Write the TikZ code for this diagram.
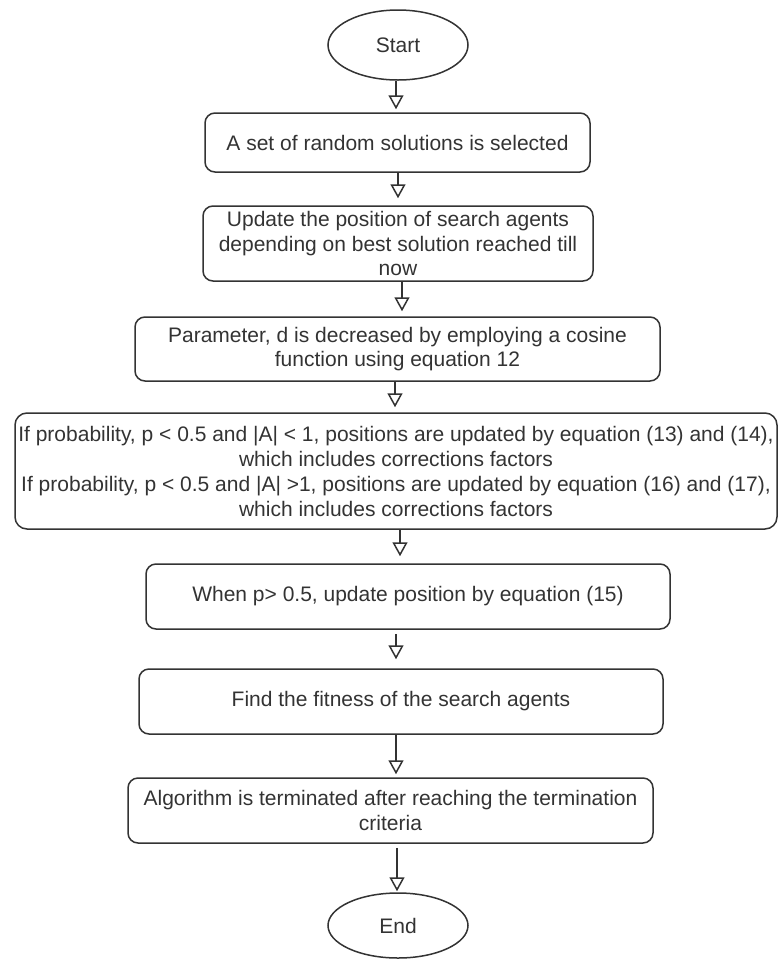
\documentclass[tikz,border=0pt]{standalone}
\usepackage{fontspec}
\setmainfont{Liberation Sans}
\usetikzlibrary{shapes.geometric,arrows.meta}
\definecolor{ln}{HTML}{333333}
\definecolor{tx}{HTML}{333333}
\newcommand{\fsza}{\fontsize{21}{24.5}\selectfont}
\newcommand{\fszb}{\fontsize{21}{25}\selectfont}
\begin{document}
\begin{tikzpicture}[x=1pt,y=-1pt,
  box/.style={draw=ln, line width=1.5pt, rounded corners=10pt, inner sep=0pt, align=center, text=tx, font=\fsza},
  term/.style={ellipse, draw=ln, line width=1.5pt, inner sep=0pt, text=tx, font=\fsza},
  arr/.style={draw=ln, line width=1.5pt, -{Triangle[open, length=14pt, width=15pt, line width=1.5pt]}}]
\useasboundingbox (0,0) rectangle (779,959);
\node[term, minimum width=140pt, minimum height=70pt] (start) at (398,45) {Start};
\node[box, minimum width=385pt, minimum height=59pt] (b1) at (397.5,142.5) {A set of random solutions is selected};
\node[box, minimum width=390pt, minimum height=75pt] (b2) at (398,243.5) {Update the position of search agents\\depending on best solution reached till\\now};
\node[box, minimum width=525pt, minimum height=64pt] (b3) at (397.5,349) {Parameter, d is decreased by employing a cosine\\function using equation 12};
\node[box, minimum width=762pt, minimum height=116pt, font=\fszb, rounded corners=12pt] (b4) at (396,471) {If probability, p < 0.5 and |A| < 1, positions are updated by equation (13) and (14),\\which includes corrections factors\\If probability, p < 0.5 and |A| >1, positions are updated by equation (16) and (17),\\which includes corrections factors};
\node[box, minimum width=524pt, minimum height=65pt] (b5) at (408,596.5) {When p> 0.5, update position by equation (15)};
\node[box, minimum width=524pt, minimum height=65pt] (b6) at (401,701.5) {Find the fitness of the search agents};
\node[box, minimum width=525pt, minimum height=65pt] (b7) at (390.5,810.5) {Algorithm is terminated after reaching the termination\\criteria};
\node[term, minimum width=140pt, minimum height=65pt] (end) at (398,925.5) {End};
\draw[arr, shorten >=3pt] ([xshift=-2pt]start.south) -- ([xshift=-1.5pt]b1.north);
\draw[arr, shorten >=7pt] ([xshift=0.5pt]b1.south) -- (b2.north);
\draw[arr, shorten >=5pt] ([xshift=4pt]b2.south) -- ([xshift=4.5pt]b3.north);
\draw[arr, shorten >=5pt] ([xshift=-2.5pt]b3.south) -- ([xshift=-1pt]b4.north);
\draw[arr, shorten >=7pt] ([xshift=4pt]b4.south) -- ([xshift=-8pt]b5.north);
\draw[arr, shorten <=4pt, shorten >=9pt] ([xshift=-12pt]b5.south) -- ([xshift=-5pt]b6.north);
\draw[arr, shorten >=3pt] ([xshift=-5pt]b6.south) -- ([xshift=5.5pt]b7.north);
\draw[arr, shorten <=4pt, shorten >=1pt] ([xshift=6.5pt]b7.south) -- ([xshift=-1pt]end.north);
\end{tikzpicture}
\end{document}
